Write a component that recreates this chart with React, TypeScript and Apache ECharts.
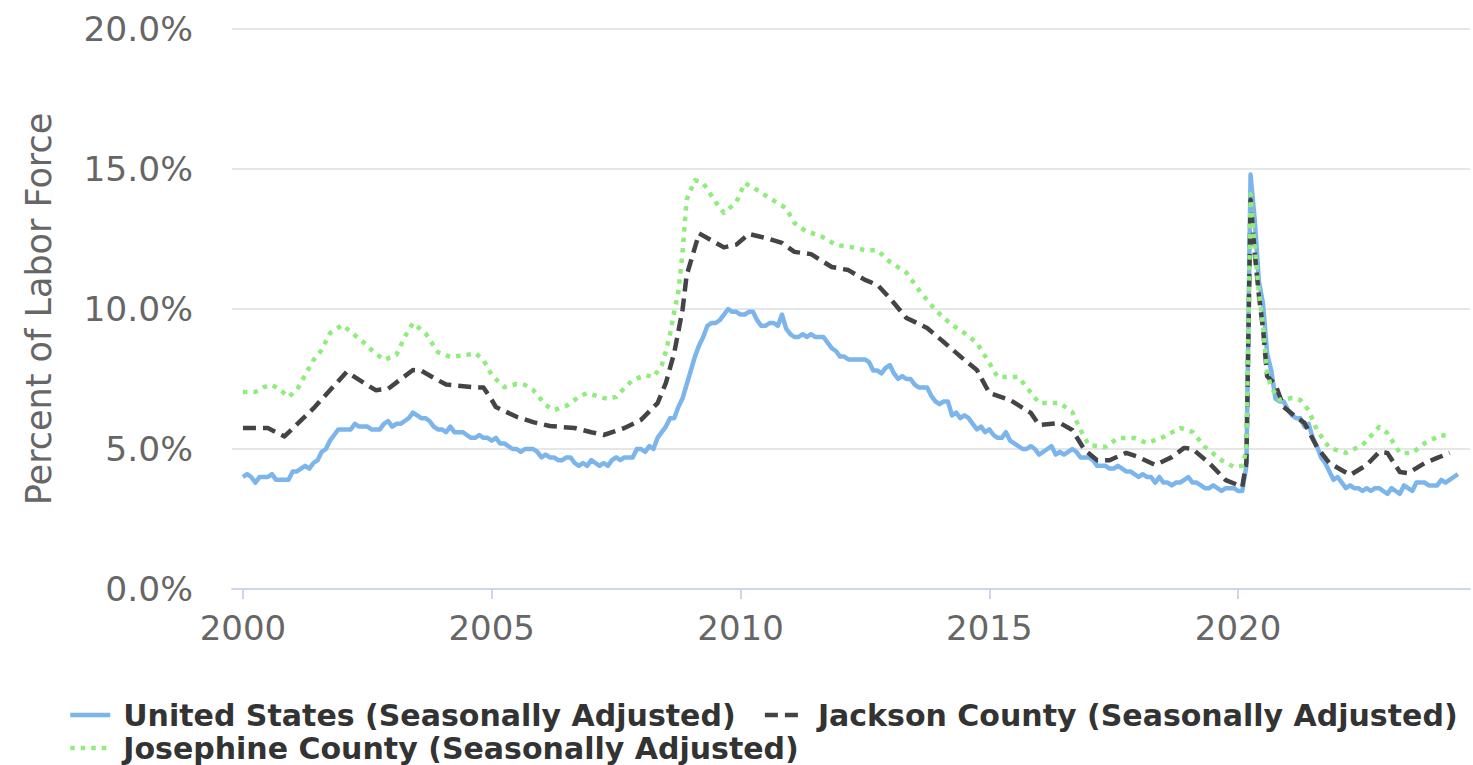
import React, { useEffect, useRef } from "react";
import * as echarts from "echarts";

// US unemployment rate (seasonally adjusted), monthly from 2000-01
const usStartYear = 2000;
const usRates = [
  4.0, 4.1, 4.0, 3.8, 4.0, 4.0, 4.0, 4.1, 3.9, 3.9, 3.9, 3.9,
  4.2, 4.2, 4.3, 4.4, 4.3, 4.5, 4.6, 4.9, 5.0, 5.3, 5.5, 5.7,
  5.7, 5.7, 5.7, 5.9, 5.8, 5.8, 5.8, 5.7, 5.7, 5.7, 5.9, 6.0,
  5.8, 5.9, 5.9, 6.0, 6.1, 6.3, 6.2, 6.1, 6.1, 6.0, 5.8, 5.7,
  5.7, 5.6, 5.8, 5.6, 5.6, 5.6, 5.5, 5.4, 5.4, 5.5, 5.4, 5.4,
  5.3, 5.4, 5.2, 5.2, 5.1, 5.0, 5.0, 4.9, 5.0, 5.0, 5.0, 4.9,
  4.7, 4.8, 4.7, 4.7, 4.6, 4.6, 4.7, 4.7, 4.5, 4.4, 4.5, 4.4,
  4.6, 4.5, 4.4, 4.5, 4.4, 4.6, 4.7, 4.6, 4.7, 4.7, 4.7, 5.0,
  5.0, 4.9, 5.1, 5.0, 5.4, 5.6, 5.8, 6.1, 6.1, 6.5, 6.8, 7.3,
  7.8, 8.3, 8.7, 9.0, 9.4, 9.5, 9.5, 9.6, 9.8, 10.0, 9.9, 9.9,
  9.8, 9.8, 9.9, 9.9, 9.6, 9.4, 9.4, 9.5, 9.5, 9.4, 9.8, 9.3,
  9.1, 9.0, 9.0, 9.1, 9.0, 9.1, 9.0, 9.0, 9.0, 8.8, 8.6, 8.5,
  8.3, 8.3, 8.2, 8.2, 8.2, 8.2, 8.2, 8.1, 7.8, 7.8, 7.7, 7.9,
  8.0, 7.7, 7.5, 7.6, 7.5, 7.5, 7.3, 7.2, 7.2, 7.2, 6.9, 6.7,
  6.6, 6.7, 6.7, 6.2, 6.3, 6.1, 6.2, 6.1, 5.9, 5.7, 5.8, 5.6,
  5.7, 5.5, 5.4, 5.4, 5.6, 5.3, 5.2, 5.1, 5.0, 5.0, 5.1, 5.0,
  4.8, 4.9, 5.0, 5.1, 4.8, 4.9, 4.8, 4.9, 5.0, 4.9, 4.7, 4.7,
  4.7, 4.6, 4.4, 4.4, 4.4, 4.3, 4.3, 4.4, 4.3, 4.2, 4.2, 4.1,
  4.0, 4.1, 4.0, 4.0, 3.8, 4.0, 3.8, 3.8, 3.7, 3.8, 3.8, 3.9,
  4.0, 3.8, 3.8, 3.7, 3.6, 3.6, 3.7, 3.6, 3.5, 3.6, 3.6, 3.6,
  3.5, 3.5, 4.4, 14.8, 13.2, 11.0, 10.2, 8.4, 7.8, 6.8, 6.7, 6.7,
  6.4, 6.2, 6.1, 6.1, 5.8, 5.9, 5.4, 5.1, 4.7, 4.5, 4.2, 3.9,
  4.0, 3.8, 3.6, 3.7, 3.6, 3.6, 3.5, 3.6, 3.5, 3.6, 3.6, 3.5,
  3.4, 3.6, 3.5, 3.4, 3.7, 3.6, 3.5, 3.8, 3.8, 3.8, 3.7, 3.7,
  3.7, 3.9, 3.8, 3.9, 4.0, 4.1,
];

// Jackson County: [month, rate]
const jackson: [string, number][] = [
  ["2000-01", 5.75], ["2000-07", 5.75], ["2000-11", 5.45], ["2001-06", 6.45],
  ["2002-02", 7.75], ["2002-09", 7.1], ["2002-12", 7.15], ["2003-06", 7.82],
  ["2003-08", 7.8], ["2003-11", 7.54], ["2004-02", 7.3], ["2004-09", 7.2],
  ["2004-11", 7.2], ["2005-01", 6.75], ["2005-02", 6.5], ["2005-07", 6.15],
  ["2005-11", 5.96], ["2006-03", 5.82], ["2006-09", 5.75], ["2007-01", 5.6],
  ["2007-04", 5.5], ["2007-09", 5.75], ["2008-01", 6.04], ["2008-05", 6.64],
  ["2008-07", 7.36], ["2008-09", 8.43], ["2008-10", 9.2], ["2008-11", 9.96],
  ["2008-12", 11.2], ["2009-03", 12.7], ["2009-09", 12.2], ["2009-12", 12.3],
  ["2010-03", 12.68], ["2010-07", 12.54], ["2010-11", 12.36], ["2011-02", 12.04],
  ["2011-06", 11.96], ["2011-11", 11.5], ["2012-03", 11.39], ["2012-07", 11.04],
  ["2012-10", 10.86], ["2013-01", 10.39], ["2013-05", 9.68], ["2013-07", 9.54],
  ["2013-10", 9.32], ["2014-02", 8.82], ["2014-07", 8.18], ["2014-10", 7.82],
  ["2015-01", 7.0], ["2015-06", 6.75], ["2015-11", 6.29], ["2016-01", 5.86],
  ["2016-06", 5.93], ["2016-09", 5.68], ["2016-12", 4.96], ["2017-03", 4.6],
  ["2017-06", 4.6], ["2017-10", 4.86], ["2018-01", 4.71], ["2018-05", 4.43],
  ["2018-09", 4.71], ["2018-12", 5.04], ["2019-02", 5.0], ["2019-06", 4.5],
  ["2019-10", 3.89], ["2020-01", 3.71], ["2020-02", 3.65], ["2020-03", 4.54],
  ["2020-04", 13.9], ["2020-05", 12.0], ["2020-06", 10.5], ["2020-07", 9.3],
  ["2020-08", 7.6], ["2020-09", 7.45], ["2020-10", 7.3], ["2020-12", 6.5],
  ["2021-03", 6.14], ["2021-05", 5.93], ["2021-08", 5.07], ["2021-11", 4.5],
  ["2022-04", 4.07], ["2022-08", 4.43], ["2022-11", 4.89], ["2023-01", 4.86],
  ["2023-04", 4.18], ["2023-06", 4.14], ["2023-10", 4.5], ["2024-01", 4.68],
  ["2024-04", 4.86],
];

// Josephine County: [month, rate]
const josephine: [string, number][] = [
  ["2000-01", 7.04], ["2000-04", 7.04], ["2000-06", 7.21], ["2000-08", 7.29],
  ["2000-10", 7.11], ["2000-12", 6.86], ["2001-02", 7.11], ["2001-04", 7.64],
  ["2001-06", 8.18], ["2001-08", 8.54], ["2001-10", 9.14], ["2002-01", 9.43],
  ["2002-03", 9.18], ["2002-06", 8.82], ["2002-08", 8.54], ["2002-11", 8.18],
  ["2003-02", 8.36], ["2003-04", 9.0], ["2003-06", 9.5], ["2003-09", 9.14],
  ["2003-12", 8.46], ["2004-03", 8.29], ["2004-07", 8.36], ["2004-09", 8.43],
  ["2004-11", 8.18], ["2005-01", 7.64], ["2005-04", 7.21], ["2005-07", 7.32],
  ["2005-09", 7.29], ["2005-11", 7.11], ["2006-02", 6.57], ["2006-04", 6.39],
  ["2006-07", 6.54], ["2006-10", 6.86], ["2006-12", 7.0], ["2007-03", 6.86],
  ["2007-05", 6.79], ["2007-07", 6.86], ["2007-09", 7.18], ["2007-11", 7.46],
  ["2008-02", 7.64], ["2008-04", 7.57], ["2008-06", 8.0], ["2008-07", 8.5],
  ["2008-08", 9.1], ["2008-09", 9.9], ["2008-10", 10.6], ["2008-11", 12.0],
  ["2008-12", 13.9], ["2009-02", 14.6], ["2009-04", 14.5], ["2009-07", 13.82],
  ["2009-09", 13.43], ["2009-12", 13.82], ["2010-02", 14.5], ["2010-05", 14.25],
  ["2010-08", 13.96], ["2010-12", 13.6], ["2011-02", 13.07], ["2011-05", 12.75],
  ["2011-08", 12.64], ["2011-12", 12.29], ["2012-04", 12.2], ["2012-07", 12.1],
  ["2012-10", 12.1], ["2013-01", 11.68], ["2013-05", 11.3], ["2013-08", 10.68],
  ["2013-12", 9.96], ["2014-04", 9.43], ["2014-07", 9.14], ["2014-10", 8.79],
  ["2015-01", 8.07], ["2015-03", 7.57], ["2015-08", 7.57], ["2015-10", 7.21],
  ["2016-01", 6.64], ["2016-06", 6.64], ["2016-09", 6.32], ["2016-11", 5.68],
  ["2017-01", 5.14], ["2017-05", 5.07], ["2017-08", 5.39], ["2017-12", 5.39],
  ["2018-03", 5.21], ["2018-07", 5.43], ["2018-11", 5.75], ["2019-02", 5.61],
  ["2019-05", 5.07], ["2019-09", 4.6], ["2019-12", 4.36], ["2020-02", 4.4],
  ["2020-03", 4.96], ["2020-04", 14.1], ["2020-05", 12.2], ["2020-06", 10.6],
  ["2020-07", 9.4], ["2020-08", 7.7], ["2020-09", 7.2], ["2020-11", 6.75],
  ["2021-02", 6.82], ["2021-04", 6.75], ["2021-06", 6.39], ["2021-08", 5.68],
  ["2021-11", 5.04], ["2022-03", 4.86], ["2022-07", 5.14], ["2022-11", 5.79],
  ["2023-01", 5.57], ["2023-04", 4.86], ["2023-07", 4.86], ["2023-10", 5.21],
  ["2024-02", 5.5], ["2024-04", 5.43],
];

const seriesNames = [
  "United States (Seasonally Adjusted)",
  "Jackson County (Seasonally Adjusted)",
  "Josephine County (Seasonally Adjusted)",
];
const xTickYears = [2000, 2005, 2010, 2015, 2020];

const toYear = (m: string) => {
  const [y, mo] = m.split("-").map(Number);
  return y + (mo - 1) / 12;
};

export default function App() {
  const ref = useRef<HTMLDivElement>(null);
  useEffect(() => {
    if (!ref.current) return;
    const chart = echarts.init(ref.current, undefined, { renderer: "svg" });
    const usData = usRates.map((v, i) => [usStartYear + i / 12, v]);
    const jData = jackson.map(([m, v]) => [toYear(m), v]);
    const joData = josephine.map(([m, v]) => [toYear(m), v]);
    const font = "DejaVu Sans";
    const legendBase = {
      left: 68,
      width: 1405,
      padding: 0,
      itemWidth: 40,
      itemHeight: 14,
      itemGap: 27,
      selectedMode: false,
      itemStyle: { opacity: 0 },
      lineStyle: { width: 4.5 },
      textStyle: {
        fontFamily: font,
        fontWeight: "bold",
        fontSize: 30,
        color: "#333333",
        padding: [0, 0, 0, 8],
      },
    };
    chart.setOption({
      animation: false,
      grid: { left: 232, right: 3, top: 29, bottom: 176, containLabel: false },
      legend: [
        { ...legendBase, data: [seriesNames[0], seriesNames[1]], top: 700 },
        { ...legendBase, data: [seriesNames[2]], top: 733 },
      ],
      xAxis: {
        type: "value",
        min: 1999.78,
        max: 2024.66,
        axisLine: { show: true, lineStyle: { color: "#ccd6eb", width: 2 } },
        axisTick: { show: true, length: 10, customValues: xTickYears, lineStyle: { color: "#ccd6eb", width: 2 } },
        axisLabel: {
          customValues: xTickYears,
          fontFamily: font,
          fontSize: 34,
          color: "#666666",
          margin: 22,
          formatter: (v: number) => String(Math.round(v)),
        },
        splitLine: { show: false },
      },
      yAxis: {
        type: "value",
        min: 0,
        max: 20,
        interval: 5,
        name: "Percent of Labor Force",
        nameLocation: "middle",
        nameGap: 176,
        nameTextStyle: { fontFamily: font, fontSize: 35, color: "#666666" },
        axisLine: { show: false },
        axisTick: { show: false },
        axisLabel: {
          fontFamily: font,
          fontSize: 34.5,
          color: "#666666",
          margin: 39,
          formatter: (v: number) => v.toFixed(1) + "%",
        },
        splitLine: { lineStyle: { color: "#e6e6e6", width: 2 } },
      },
      series: [
        {
          name: seriesNames[0],
          type: "line",
          data: usData,
          symbol: "none",
          color: "#7cb5ec",
          lineStyle: { color: "#7cb5ec", width: 4.5, join: "round" },
        },
        {
          name: seriesNames[1],
          type: "line",
          data: jData,
          symbol: "none",
          color: "#434348",
          lineStyle: { color: "#434348", width: 4.5, type: [13, 7], join: "round" },
        },
        {
          name: seriesNames[2],
          type: "line",
          data: joData,
          symbol: "none",
          color: "#90ed7d",
          lineStyle: { color: "#90ed7d", width: 4.5, type: [4.5, 6], join: "round" },
        },
      ],
    });
    return () => chart.dispose();
  }, []);
  return (
    <div style={{ position: "fixed", left: 0, top: 0, width: 1473, height: 765, background: "#ffffff" }}>
      <div ref={ref} style={{ width: 1473, height: 765 }} />
    </div>
  );
}
